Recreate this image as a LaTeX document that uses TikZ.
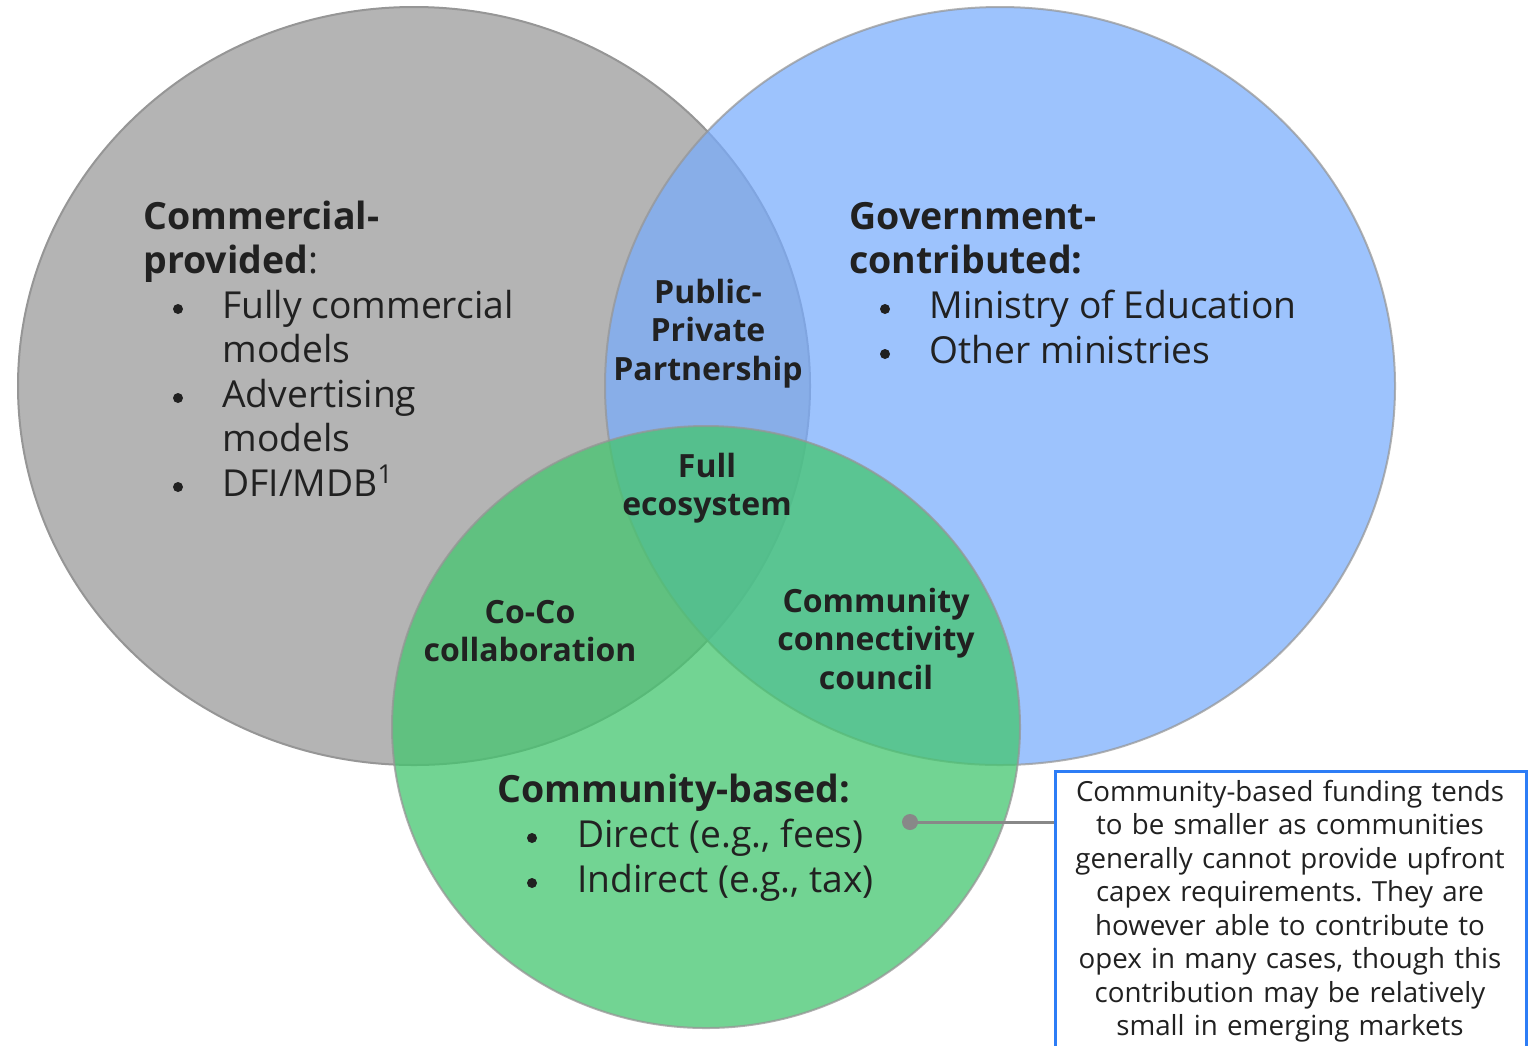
\documentclass[tikz,border=0pt]{standalone}
\usepackage{fontspec}
\setmainfont{Open Sans}
\definecolor{txt}{RGB}{33,33,33}
\definecolor{cgray}{RGB}{180,180,180}
\definecolor{cblue}{RGB}{120,172,253}
\definecolor{cgreen}{RGB}{68,198,111}
\definecolor{edge}{RGB}{150,150,150}
\definecolor{boxblue}{RGB}{45,125,246}
\definecolor{conn}{RGB}{136,136,136}
\frenchspacing
\begin{document}
\begin{tikzpicture}[x=0.5pt,y=-0.5pt,
  hd/.style={anchor=base west, inner sep=0pt, text=txt, font=\fontsize{18.75}{22}\selectfont\bfseries},
  lst/.style={anchor=base west, inner sep=0pt, text=txt, font=\fontsize{18.6}{22}\selectfont},
  bul/.style={circle, fill=txt, inner sep=0pt, minimum size=5pt},
  ov/.style={anchor=base, inner sep=0pt, text=txt, align=center, text width=120pt,
    font=\fontsize{16}{19.25}\selectfont\bfseries},
  callbox/.style={draw=boxblue, line width=1.5pt, anchor=north west, minimum width=235.5pt, minimum height=160pt, inner sep=0pt},
  calltext/.style={anchor=base, inner sep=0pt, text=txt, align=center, text width=230pt,
    font=\fontsize{13.85}{16.75}\selectfont},
]
\useasboundingbox (0,0) rectangle (1534,1045);
\clip (0,0) rectangle (1534,1045);
% circles
\fill[white] (0,0) rectangle (1534,1045);
\filldraw[fill=cgray, draw=edge, line width=1pt] (414,386) ellipse [x radius=396, y radius=379];
\filldraw[fill=cblue, draw=edge, line width=1pt, opacity=0.72] (1000,386) ellipse [x radius=395, y radius=379];
\filldraw[fill=cgreen, draw=edge, line width=1pt, opacity=0.75] (706,727) ellipse [x radius=314, y radius=301];

% Commercial
\node[hd] (c1) at (143,229) {Commercial-};
\node[hd] (c2) at (143,273) {provided{\mdseries:}};
\node[bul] (cb1) at (178,309) {};
\node[lst] (ct1) at (222,318) {Fully commercial};
\node[lst] (ct1b) at (222,362) {models};
\node[bul] (cb2) at (178,398) {};
\node[lst] (ct2) at (222,407) {Advertising};
\node[lst] (ct2b) at (222,451) {models};
\node[bul] (cb3) at (178,487) {};
\node[lst] (ct3) at (222,496) {DFI/MDB\textsuperscript{1}};

% Government
\node[hd] (g1) at (849,229) {Government-};
\node[hd] (g2) at (849,273) {contributed:};
\node[bul] (gb1) at (885,309) {};
\node[lst] (gt1) at (929,318) {Ministry of Education};
\node[bul] (gb2) at (885,354) {};
\node[lst] (gt2) at (929,363) {Other ministries};

% Community
\node[hd] (m1) at (497,802) {Community-based:};
\node[bul] (mb1) at (532,838) {};
\node[lst] (mt1) at (577,847) {Direct (e.g., fees)};
\node[bul] (mb2) at (532,883) {};
\node[lst] (mt2) at (577,892) {Indirect (e.g., tax)};

% overlaps
\node[ov] (ppp) at (708,303) {Public-\\Private\\Partnership};
\node[ov] (full) at (707,477) {Full\\ecosystem};
\node[ov] (coco) at (530,623) {Co-Co\\collaboration};
\node[ov] (ccc) at (876,612) {Community\\connectivity\\council};

% callout
\node[callbox] (box) at (1054,770) {};
\node[calltext] (ctext) at (1290,801) {Community-based funding tends\\to be smaller as communities\\generally cannot provide upfront\\capex requirements. They are\\however able to contribute to\\opex in many cases, though this\\contribution may be relatively\\small in emerging markets};
\node[circle, fill=conn, inner sep=0pt, minimum size=8pt] (dot) at (910,822) {};
\draw[conn, line width=1.5pt] (dot.center) -- (dot.center -| box.west);
\end{tikzpicture}
\end{document}
